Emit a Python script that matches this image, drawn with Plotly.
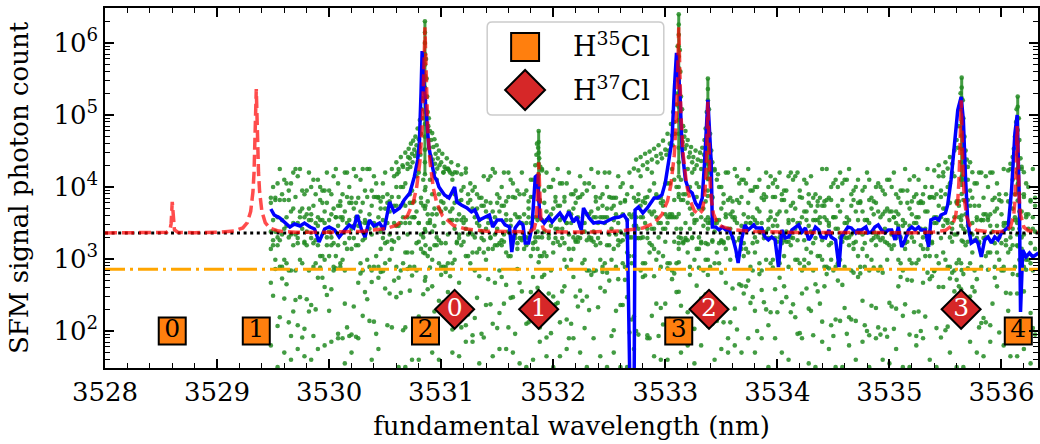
import numpy as np
import plotly.graph_objects as go

# ---------------- data ----------------
# raw SFM shots (log10 photon count) on the scan grid; five shot groups per wavelength
scan_start = 3529.48
scan_step = 0.02
shots_log_a = [
    3.85, 4.00, 3.85, 4.05, 4.25, 3.90, 4.10, 4.05, 3.95, 4.05,
    4.20, 4.25, 4.15, 4.25, 3.95, 3.90, 3.95, 4.20, 4.00, 4.10,
    3.90, 4.10, 4.00, 3.95, 3.95, 4.20, 3.95, 3.90, 4.15, 4.25,
    4.05, 3.80, 3.90, 4.20, 4.20, 4.00, 3.85, 4.25, 4.15, 3.85,
    4.10, 4.25, 3.95, 4.25, 4.25, 3.95, 4.15, 4.05, 3.85, 3.80,
    4.05, 4.20, 3.90, 3.80, 4.25, 4.15, 4.00, 4.25, 4.00, 4.00,
    4.05, 4.25, 3.90, 3.95, 3.80, 4.15, 4.20, 3.85, 4.10, 4.00,
    3.80, 4.10, 3.90, 4.20, 4.10, 3.90, 3.80, 4.20, 4.25, 4.25,
    4.20, 4.10, 3.90, 4.20, 3.80, 3.95, 4.00, 4.20, 3.90, 4.05,
    3.95, 4.00, 3.90, 3.85, 3.85, 4.15, 3.80, 4.10, 4.15, 4.25,
    4.20, 3.90, 3.85, 4.00, 4.20, 3.80, 4.20, 4.10, 4.05, 3.85,
    3.95, 3.90, 4.20, 3.90, 3.95, 3.80, 4.10, 4.10, 4.00, 4.15,
    3.80, 4.25, 3.95, 4.20, 4.00, 4.00, 4.10, 3.80, 4.25, 4.05,
    4.05, 3.80, 4.05, 4.20, 3.90, 3.90, 3.95, 3.85, 4.15, 3.90,
    4.05, 3.95, 4.05, 4.25, 4.00, 3.80, 4.20, 3.85, 3.90, 4.20,
    4.00, 4.20, 3.85, 3.85, 3.85, 4.15, 4.00, 4.05, 3.80, 3.90,
    4.20, 4.00, 3.85, 3.80, 3.90, 4.15, 3.80, 3.85, 4.25, 3.95,
    4.20, 4.05, 3.90, 3.85, 3.85, 3.80, 4.05, 4.05, 4.05, 4.25,
    4.10, 4.00, 4.00, 4.10, 3.90, 3.90, 4.25, 4.00, 4.20, 4.25,
    4.05, 4.00, 4.25, 3.95, 3.80, 3.95, 4.20, 3.85, 4.25, 4.10,
    4.00, 4.00, 3.90, 4.20, 4.20, 3.85, 3.80, 4.25, 4.15, 4.05,
    4.10, 4.10, 4.05, 4.25, 3.95, 3.95, 4.00, 4.00, 4.10, 3.85,
    3.90, 4.20, 4.00, 4.15, 4.05, 4.10, 4.00, 4.20, 3.90, 3.95,
    3.95, 4.15, 4.20, 4.10, 4.15, 4.20, 3.95, 3.85, 4.10, 4.05,
    3.90, 4.15, 3.85, 3.90, 3.80, 3.85, 4.25, 3.80, 4.25, 3.85,
    4.00, 4.05, 4.10, 4.00, 4.20, 4.05, 4.10, 4.10, 4.25, 3.90,
    3.95, 4.00, 4.10, 3.80, 3.95, 4.00, 4.20, 4.10, 3.85, 3.80,
    4.00, 4.05, 4.00, 3.95, 3.90, 4.10, 4.10, 4.00, 4.20, 3.90,
    3.85, 3.95, 3.95, 4.25, 3.95, 4.10, 3.80, 4.15, 3.90, 4.10,
    3.80, 3.90, 4.00, 4.25, 3.85, 4.00, 3.85, 3.90, 4.15, 3.95,
    4.15, 3.90, 4.00, 4.05, 4.20, 4.15, 3.80, 3.80, 4.10, 4.10,
    3.80, 4.10, 3.95, 3.85, 4.05, 4.05, 4.20, 4.20, 3.85, 4.15,
    4.00, 4.20, 4.20, 3.85, 4.05, 3.90, 3.80, 4.25, 3.90, 3.80,
    4.25, 4.10, 3.90, 4.20, 3.90, 4.25, 3.90, 4.05, 4.00, 3.80,
    4.25, 3.85,
]
shots_log_b = [
    3.78, 3.54, 3.82, 3.58, 3.82, 3.54, 3.82, 3.58, 3.82, 3.66,
    3.70, 3.86, 3.50, 3.66, 3.70, 3.58, 3.62, 3.70, 3.62, 3.74,
    3.50, 3.58, 3.82, 3.78, 3.66, 3.78, 3.54, 3.62, 3.70, 3.58,
    3.74, 3.74, 3.58, 3.66, 3.86, 3.78, 3.78, 3.70, 3.78, 3.58,
    3.66, 3.78, 3.50, 3.86, 3.62, 3.74, 3.86, 3.86, 3.86, 3.70,
    3.86, 3.70, 3.78, 3.66, 3.86, 3.74, 3.74, 3.86, 3.74, 3.78,
    3.74, 3.58, 3.78, 3.78, 3.58, 3.66, 3.50, 3.78, 3.74, 3.74,
    3.62, 3.50, 3.62, 3.70, 3.62, 3.70, 3.66, 3.78, 3.70, 3.86,
    3.66, 3.70, 3.78, 3.54, 3.62, 3.82, 3.58, 3.54, 3.78, 3.82,
    3.70, 3.58, 3.70, 3.54, 3.74, 3.74, 3.66, 3.58, 3.78, 3.66,
    3.58, 3.78, 3.66, 3.74, 3.74, 3.62, 3.86, 3.54, 3.86, 3.62,
    3.58, 3.50, 3.50, 3.62, 3.50, 3.70, 3.86, 3.86, 3.58, 3.54,
    3.82, 3.54, 3.78, 3.66, 3.54, 3.62, 3.70, 3.86, 3.74, 3.74,
    3.58, 3.86, 3.50, 3.66, 3.62, 3.70, 3.78, 3.58, 3.86, 3.50,
    3.50, 3.62, 3.62, 3.66, 3.58, 3.86, 3.70, 3.58, 3.74, 3.50,
    3.70, 3.86, 3.70, 3.74, 3.62, 3.50, 3.78, 3.62, 3.82, 3.54,
    3.62, 3.58, 3.62, 3.58, 3.82, 3.74, 3.58, 3.78, 3.86, 3.66,
    3.62, 3.66, 3.86, 3.50, 3.78, 3.74, 3.62, 3.58, 3.62, 3.62,
    3.82, 3.58, 3.86, 3.82, 3.82, 3.50, 3.78, 3.70, 3.62, 3.54,
    3.86, 3.70, 3.58, 3.70, 3.54, 3.50, 3.54, 3.86, 3.50, 3.54,
    3.54, 3.70, 3.78, 3.62, 3.82, 3.62, 3.66, 3.54, 3.82, 3.78,
    3.86, 3.62, 3.50, 3.78, 3.50, 3.58, 3.54, 3.70, 3.66, 3.50,
    3.82, 3.86, 3.54, 3.66, 3.86, 3.86, 3.62, 3.66, 3.82, 3.82,
    3.66, 3.54, 3.74, 3.78, 3.70, 3.50, 3.86, 3.58, 3.66, 3.66,
    3.78, 3.74, 3.54, 3.66, 3.74, 3.50, 3.74, 3.74, 3.82, 3.50,
    3.82, 3.58, 3.58, 3.74, 3.66, 3.82, 3.50, 3.50, 3.54, 3.74,
    3.82, 3.66, 3.78, 3.78, 3.66, 3.54, 3.54, 3.82, 3.70, 3.62,
    3.78, 3.66, 3.58, 3.62, 3.66, 3.70, 3.66, 3.66, 3.58, 3.66,
    3.62, 3.78, 3.54, 3.50, 3.78, 3.70, 3.62, 3.86, 3.50, 3.78,
    3.78, 3.78, 3.66, 3.66, 3.86, 3.86, 3.58, 3.50, 3.74, 3.86,
    3.70, 3.70, 3.54, 3.78, 3.50, 3.58, 3.78, 3.74, 3.54, 3.82,
    3.62, 3.82, 3.74, 3.50, 3.74, 3.58, 3.74, 3.54, 3.62, 3.62,
    3.54, 3.62, 3.82, 3.66, 3.70, 3.82, 3.62, 3.50, 3.50, 3.50,
    3.78, 3.70, 3.58, 3.50, 3.66, 3.66, 3.86, 3.62, 3.62, 3.82,
    3.58, 3.74,
]
shots_log_c = [
    3.38, 3.26, 3.38, 3.30, 3.26, 3.34, 3.42, 3.46, 3.30, 3.34,
    3.50, 3.34, 3.22, 3.58, 3.42, 3.22, 3.38, 3.54, 3.54, 3.22,
    3.26, 3.46, 3.54, 3.54, 3.50, 3.30, 3.38, 3.30, 3.22, 3.58,
    3.46, 3.58, 3.54, 3.22, 3.50, 3.54, 3.42, 3.46, 3.58, 3.46,
    3.50, 3.26, 3.54, 3.50, 3.42, 3.34, 3.50, 3.46, 3.58, 3.38,
    3.54, 3.22, 3.50, 3.34, 3.26, 3.50, 3.46, 3.46, 3.50, 3.58,
    3.50, 3.34, 3.50, 3.58, 3.58, 3.22, 3.50, 3.34, 3.30, 3.38,
    3.50, 3.54, 3.38, 3.46, 3.30, 3.26, 3.22, 3.50, 3.22, 3.34,
    3.54, 3.54, 3.42, 3.22, 3.34, 3.54, 3.50, 3.42, 3.34, 3.38,
    3.34, 3.30, 3.50, 3.46, 3.38, 3.26, 3.42, 3.50, 3.30, 3.50,
    3.34, 3.42, 3.22, 3.26, 3.34, 3.54, 3.38, 3.46, 3.30, 3.34,
    3.22, 3.58, 3.26, 3.30, 3.30, 3.58, 3.50, 3.22, 3.30, 3.38,
    3.58, 3.30, 3.38, 3.54, 3.34, 3.46, 3.22, 3.42, 3.42, 3.54,
    3.42, 3.22, 3.50, 3.34, 3.50, 3.30, 3.26, 3.30, 3.46, 3.38,
    3.38, 3.26, 3.30, 3.26, 3.38, 3.58, 3.50, 3.22, 3.58, 3.58,
    3.58, 3.34, 3.42, 3.54, 3.34, 3.26, 3.38, 3.26, 3.34, 3.30,
    3.30, 3.30, 3.46, 3.46, 3.42, 3.58, 3.30, 3.50, 3.42, 3.22,
    3.42, 3.42, 3.58, 3.30, 3.50, 3.42, 3.42, 3.50, 3.58, 3.58,
    3.58, 3.42, 3.22, 3.42, 3.22, 3.26, 3.26, 3.42, 3.30, 3.50,
    3.54, 3.30, 3.22, 3.46, 3.22, 3.42, 3.50, 3.26, 3.38, 3.50,
    3.22, 3.26, 3.22, 3.58, 3.42, 3.42, 3.58, 3.58, 3.50, 3.26,
    3.46, 3.22, 3.42, 3.58, 3.50, 3.22, 3.30, 3.50, 3.38, 3.42,
    3.34, 3.38, 3.42, 3.58, 3.46, 3.54, 3.46, 3.30, 3.22, 3.26,
    3.38, 3.50, 3.30, 3.54, 3.42, 3.26, 3.50, 3.38, 3.26, 3.54,
    3.46, 3.38, 3.22, 3.54, 3.54, 3.58, 3.26, 3.58, 3.54, 3.46,
    3.22, 3.58, 3.42, 3.42, 3.30, 3.34, 3.30, 3.58, 3.30, 3.34,
    3.22, 3.38, 3.54, 3.38, 3.34, 3.22, 3.54, 3.50, 3.26, 3.38,
    3.34, 3.30, 3.26, 3.38, 3.42, 3.22, 3.54, 3.34, 3.58, 3.50,
    3.46, 3.30, 3.46, 3.22, 3.34, 3.46, 3.30, 3.50, 3.58, 3.58,
    3.42, 3.30, 3.42, 3.26, 3.38, 3.22, 3.50, 3.58, 3.54, 3.58,
    3.46, 3.54, 3.50, 3.30, 3.42, 3.34, 3.34, 3.58, 3.46, 3.42,
    3.38, 3.46, 3.34, 3.34, 3.26, 3.54, 3.22, 3.54, 3.54, 3.30,
    3.58, 3.46, 3.38, 3.22, 3.46, 3.30, 3.22, 3.46, 3.26, 3.42,
    3.30, 3.42, 3.54, 3.34, 3.42, 3.30, 3.34, 3.58, 3.42, 3.22,
    3.42, 3.38,
]
shots_log_d = [
    3.14, 3.19, 2.99, 3.19, 2.89, 2.89, 2.99, 2.94, 2.84, 2.84,
    3.19, 2.84, 3.29, 2.99, 2.94, 3.24, 3.19, 2.84, 3.29, 2.89,
    2.94, 3.19, 3.04, 3.04, 2.99, 3.19, 3.04, 3.19, 2.84, 3.04,
    3.19, 2.94, 2.99, 2.84, 3.14, 3.29, 3.14, 3.29, 3.19, 3.19,
    2.94, 2.84, 3.29, 2.99, 2.89, 2.84, 2.89, 3.04, 2.89, 3.14,
    3.29, 2.94, 3.24, 2.99, 3.14, 3.24, 2.89, 3.29, 2.84, 2.94,
    3.09, 3.09, 2.89, 3.09, 2.89, 2.84, 3.24, 3.14, 3.09, 3.19,
    3.04, 3.14, 2.99, 3.19, 3.19, 2.94, 2.89, 2.89, 2.89, 2.94,
    3.09, 2.94, 2.99, 3.24, 3.29, 3.19, 3.24, 3.04, 3.04, 2.94,
    3.09, 2.84, 3.09, 3.14, 3.29, 3.09, 2.99, 3.14, 3.29, 3.14,
    3.19, 3.19, 2.84, 3.19, 3.24, 3.09, 3.04, 3.04, 3.29, 3.29,
    3.14, 3.29, 3.29, 3.14, 3.19, 3.29, 3.04, 3.14, 3.24, 3.14,
    3.04, 3.04, 3.09, 3.04, 3.29, 2.84, 3.09, 3.29, 3.24, 3.19,
    3.29, 2.99, 2.89, 3.14, 2.99, 3.14, 3.24, 3.24, 3.29, 2.94,
    2.99, 2.84, 2.84, 3.29, 3.24, 3.19, 3.29, 2.99, 2.89, 2.94,
    3.19, 3.19, 2.99, 3.14, 2.89, 3.19, 3.24, 2.94, 2.89, 3.09,
    3.04, 2.94, 3.04, 3.29, 3.29, 3.29, 2.94, 2.94, 3.29, 3.09,
    3.19, 3.14, 2.99, 3.09, 2.89, 3.04, 3.24, 2.94, 2.94, 2.84,
    3.24, 2.94, 3.14, 3.29, 3.24, 3.29, 3.09, 2.89, 3.29, 2.99,
    3.14, 3.14, 3.24, 2.84, 2.99, 2.99, 2.89, 3.24, 2.94, 3.09,
    2.94, 3.24, 3.24, 3.14, 3.29, 2.99, 3.29, 3.24, 3.04, 3.29,
    3.14, 3.04, 3.14, 3.09, 2.89, 2.84, 3.09, 3.24, 2.94, 2.84,
    3.29, 2.99, 3.29, 2.94, 2.99, 3.29, 3.24, 2.94, 3.29, 3.04,
    3.24, 3.24, 3.19, 3.29, 2.99, 2.99, 2.94, 2.84, 2.99, 3.14,
    2.94, 3.09, 2.84, 3.29, 3.04, 3.04, 2.99, 2.89, 2.89, 3.19,
    2.99, 2.84, 2.89, 2.94, 2.99, 3.24, 2.89, 3.29, 3.19, 2.84,
    3.14, 3.24, 3.04, 2.89, 3.14, 2.89, 3.04, 2.84, 2.99, 3.29,
    3.19, 2.84, 2.89, 3.29, 3.24, 2.99, 3.19, 3.14, 3.19, 3.29,
    2.99, 2.94, 2.84, 3.14, 3.24, 2.99, 2.94, 3.24, 2.94, 2.99,
    3.19, 3.14, 3.04, 3.14, 3.04, 3.24, 2.84, 3.04, 2.94, 3.29,
    3.09, 2.99, 2.89, 2.89, 3.24, 2.84, 2.94, 2.99, 2.94, 3.24,
    3.19, 3.24, 2.94, 3.09, 2.84, 3.29, 3.24, 2.89, 3.29, 3.04,
    3.09, 3.09, 3.24, 2.89, 3.09, 2.99, 2.84, 2.89, 3.19, 3.09,
    3.14, 3.19, 2.89, 3.19, 2.99, 3.14, 2.89, 2.99, 2.99, 2.94,
    2.84, 3.14,
]
shots_log_e = [
    2.67, 2.49, 2.86, 2.07, 2.19, 2.73, 2.45, 2.65, 2.12, 1.93,
    2.27, 2.43, 2.08, 2.47, 1.91, 2.03, 2.44, 2.27, 2.36, 1.93,
    2.30, 2.74, 2.88, 2.74, 2.61, 2.50, 2.28, 2.58, 2.89, 2.87,
    1.96, 2.89, 1.90, 2.38, 2.05, 1.93, 1.95, 2.34, 1.92, 2.67,
    2.80, 2.21, 2.54, 2.44, 2.14, 2.68, 2.13, 1.96, 2.74, 2.82,
    2.83, 2.59, 2.08, 2.52, 2.05, 2.70, 2.47, 2.74, 2.53, 2.01,
    2.05, 2.86, 2.56, 2.77, 2.03, 1.91, 2.20, 2.05, 2.51, 2.75,
    2.58, 2.88, 2.62, 2.27, 2.13, 2.42, 2.78, 2.40, 2.82, 2.54,
    2.76, 2.02, 2.39, 2.39, 2.67, 2.05, 2.32, 2.08, 2.23, 2.32,
    1.94, 2.18, 2.46, 2.76, 1.96, 1.91, 2.36, 2.72, 2.37, 2.10,
    2.67, 2.04, 2.25, 2.75, 2.38, 2.64, 2.05, 2.46, 2.47, 1.96,
    2.86, 2.67, 2.55, 2.27, 2.10, 2.12, 2.54, 2.75, 2.34, 2.60,
    2.05, 2.75, 2.78, 1.91, 2.52, 1.97, 2.48, 2.37, 2.39, 2.12,
    2.55, 2.62, 2.16, 1.90, 2.10, 2.75, 2.48, 2.34, 2.56, 2.42,
    2.04, 2.48, 2.29, 2.78, 2.83, 2.84, 2.33, 2.60, 2.82, 2.55,
    2.81, 2.70, 1.93, 2.01, 2.28, 2.72, 2.36, 2.36, 2.71, 2.47,
    1.98, 2.16, 2.20, 2.00, 1.95, 2.84, 2.75, 2.77, 1.94, 1.90,
    2.21, 2.76, 2.38, 1.93, 2.32, 2.09, 2.38, 2.87, 2.17, 2.72,
    2.80, 2.54, 2.00, 2.35, 1.97, 2.16, 2.26, 2.78, 2.03, 2.03,
    2.63, 2.88, 2.45, 2.15, 2.51, 2.07, 2.22, 2.10, 2.30, 2.14,
    2.40, 2.81, 2.12, 2.67, 1.90, 2.12, 2.59, 2.31, 2.02, 2.65,
    2.63, 2.52, 2.62, 2.70, 2.39, 2.47, 2.28, 2.00, 2.79, 2.57,
    2.40, 2.30, 2.08, 2.26, 2.88, 2.58, 2.26, 2.74, 2.40, 2.62,
    2.47, 2.89, 2.26, 2.37, 2.19, 1.96, 1.97, 2.52, 2.89, 2.59,
    2.31, 2.28, 1.94, 2.65, 2.55, 2.38, 2.13, 2.62, 2.79, 2.87,
    2.08, 1.93, 2.16, 2.70, 2.14, 2.64, 2.32, 1.96, 2.19, 2.16,
    2.81, 2.14, 2.75, 2.80, 2.42, 2.08, 2.00, 1.94, 2.35, 2.88,
    2.32, 2.05, 1.95, 2.81, 2.02, 1.92, 2.39, 2.34, 2.03, 2.31,
    2.62, 2.75, 2.21, 2.37, 2.71, 1.95, 2.70, 2.26, 1.93, 2.27,
    2.00, 2.67, 2.20, 2.81, 2.72, 2.76, 2.83, 2.04, 2.61, 1.91,
    2.61, 2.01, 2.06, 2.73, 2.81, 2.55, 2.71, 2.62, 2.58, 2.79,
    2.31, 2.87, 2.48, 2.61, 2.55, 2.72, 2.05, 2.11, 2.18, 2.12,
    2.85, 2.08, 2.38, 2.74, 2.62, 1.98, 2.86, 2.84, 2.53, 2.28,
    2.52, 2.79, 2.05, 2.52, 2.78, 2.17, 2.55, 2.85, 2.16, 2.25,
    2.04, 1.95,
]
# sparse deep-tail shots (log10), coarser grid
tail_step = 0.06
shots_log_f = [
    1.80, 1.50, 1.70, 1.60, 1.75, 1.65, 1.60, 1.75,
    1.80, 1.85, 1.90, 1.55, 1.70, 1.90, 1.45, 1.60, 1.75, 1.45,
    1.45, 1.50, 1.50, 1.60, 1.60, 1.45, 1.70, 1.60, 1.45, 1.70,
    1.65, 1.85, 1.85, 1.55, 1.45, 1.65, 1.75, 1.75, 1.70, 1.55,
    1.50, 1.60, 1.85, 1.65, 1.50, 1.65, 1.75, 1.90, 1.70, 1.50,
    1.90, 1.65, 1.50, 1.70, 1.50, 1.50, 1.75, 1.45, 1.90, 1.65,
    1.60, 1.60, 1.45, 1.70, 1.80, 1.55, 1.80, 1.45, 1.60, 1.75,
    1.70, 1.80, 1.70, 1.90, 1.70, 1.90, 1.50, 1.90, 1.70, 1.60,
    1.45, 1.90, 1.55, 1.50, 1.85, 1.75, 1.50, 1.50, 1.80, 1.60,
    1.85, 1.50, 1.90, 1.60, 1.55, 1.75, 1.50, 1.50, 1.80, 1.90,
    1.60, 1.50, 1.45, 1.70, 1.50, 1.50, 1.85, 1.70, 1.65, 1.85,
    1.45, 1.80, 1.65, 1.65, 1.75, 1.55,
]
# elevated shots in the wings of the strong lines (wavelength, photon count)
wing_x = [
    3530.60, 3530.62, 3530.64, 3530.66, 3530.68, 3530.70, 3530.71, 3530.72, 3530.73, 3530.74,
    3530.75, 3530.76, 3530.77, 3530.78, 3530.79, 3530.80, 3530.81, 3530.82, 3530.825, 3530.83,
    3530.835, 3530.84, 3530.845, 3530.865, 3530.87, 3530.875, 3530.88, 3530.885, 3530.89, 3530.90,
    3530.91, 3530.92, 3530.93, 3530.94, 3530.95, 3530.96, 3530.97, 3530.98, 3531.00, 3531.01,
    3531.03, 3531.05, 3531.07, 3531.09, 3531.12, 3531.15, 3531.18, 3531.22,
    3530.605, 3530.655, 3530.705, 3530.725, 3530.745, 3530.765, 3530.785, 3530.805, 3530.815, 3530.895,
    3530.905, 3530.925, 3530.945, 3530.965, 3530.985, 3531.02, 3531.06, 3531.10,
    3531.84, 3531.85, 3531.855, 3531.865, 3531.875, 3531.885, 3531.90,
    3532.72, 3532.74, 3532.76, 3532.78, 3532.80, 3532.82, 3532.84, 3532.86, 3532.88, 3532.90,
    3532.92, 3532.94, 3532.96, 3532.98, 3533.00, 3533.02, 3533.04, 3533.05, 3533.06, 3533.07,
    3533.08, 3533.09, 3533.10, 3533.105, 3533.11, 3533.13, 3533.135, 3533.14, 3533.15, 3533.16,
    3533.17, 3533.18, 3533.19, 3533.20, 3533.22, 3533.23, 3533.25, 3533.27, 3533.29, 3533.31,
    3533.33, 3533.35, 3533.36, 3533.37, 3533.39, 3533.40, 3533.41, 3533.42, 3533.44, 3533.47,
    3532.93, 3532.97, 3533.01, 3533.03, 3533.065, 3533.085, 3533.155, 3533.175, 3533.21, 3533.24,
    3533.28, 3533.32, 3533.345, 3533.405,
    3535.40, 3535.44, 3535.48, 3535.50, 3535.52, 3535.54, 3535.56, 3535.58, 3535.60, 3535.61,
    3535.62, 3535.63, 3535.635, 3535.655, 3535.66, 3535.67, 3535.68, 3535.69, 3535.70, 3535.72,
    3535.74,
    3536.06, 3536.08, 3536.10, 3536.11, 3536.12, 3536.13, 3536.135, 3536.155, 3536.16, 3536.17,
    3536.18, 3536.20,
]
wing_y = [
    22000, 16000, 26000, 19000, 30000, 21000, 34000, 25000, 40000, 29000,
    44000, 33000, 50000, 38000, 65000, 46000, 85000, 55000, 120000, 170000,
    90000, 300000, 500000, 600000, 320000, 180000, 110000, 70000, 90000, 60000,
    45000, 56000, 36000, 46000, 29000, 38000, 25000, 32000, 22000, 29000,
    19000, 25000, 17000, 22000, 16000, 20000, 15000, 18000,
    15000, 20000, 26000, 19000, 22000, 27000, 30000, 36000, 28000, 35000,
    27000, 24000, 21000, 18000, 20000, 16000, 18000, 15000,
    20000, 28000, 40000, 35000, 25000, 19000, 17000,
    18000, 24000, 17000, 26000, 20000, 29000, 22000, 31000, 24000, 34000,
    27000, 38000, 29000, 44000, 33000, 55000, 40000, 75000, 52000, 110000,
    80000, 200000, 140000, 450000, 900000, 800000, 400000, 180000, 120000, 70000,
    50000, 60000, 38000, 45000, 30000, 36000, 26000, 32000, 24000, 30000,
    35000, 45000, 65000, 110000, 120000, 55000, 32000, 22000, 17000, 15000,
    22000, 25000, 28000, 32000, 38000, 55000, 42000, 34000, 26000, 22000,
    20000, 23000, 28000, 24000,
    17000, 20000, 16000, 22000, 18000, 26000, 21000, 32000, 45000, 35000,
    70000, 120000, 200000, 160000, 90000, 50000, 32000, 24000, 19000, 22000,
    16000,
    17000, 21000, 26000, 34000, 50000, 80000, 120000, 90000, 45000, 25000,
    19000, 16000,
]
# repeated shots recorded on the line centres (photon counts)
peak_centres = [3530.855, 3531.87, 3533.12, 3533.38, 3535.645, 3536.145]
peak_top = [2.0e6, 6.0e4, 2.5e6, 3.2e5, 3.3e5, 1.8e5]
peak_foot = [1.5e4, 8.0e3, 1.5e4, 1.2e4, 1.0e4, 8.0e3]
peak_shot_x = ([3530.855] * 19 + [3531.87] * 11 + [3533.12] * 20
               + [3533.38] * 14 + [3535.645] * 13 + [3536.145] * 12)
peak_shot_y = [
    2000000, 1400000, 1000000, 700000, 500000, 350000, 240000, 160000, 110000, 75000,
    50000, 33000, 22000, 15000, 9000, 5000, 2600, 1200, 500,
    60000, 42000, 30000, 21000, 15000, 10000, 6500, 3800, 2000, 900, 350,
    2500000, 1800000, 1300000, 900000, 650000, 450000, 300000, 200000, 130000, 85000,
    55000, 35000, 22000, 14000, 8000, 4200, 2000, 900, 350, 120,
    320000, 230000, 160000, 110000, 75000, 50000, 33000, 21000, 13000, 7500,
    3800, 1600, 600, 200,
    330000, 240000, 170000, 120000, 80000, 52000, 34000, 22000, 14000, 8000,
    4000, 1800, 700,
    180000, 130000, 90000, 62000, 42000, 28000, 18000, 11000, 6500, 3500, 1500, 600,
]

# smoothed signal (blue)
smooth_x = [
    3529.48, 3529.51, 3529.56, 3529.60, 3529.65, 3529.69, 3529.74, 3529.78, 3529.83, 3529.87,
    3529.91, 3529.96, 3530.00, 3530.05, 3530.09, 3530.14, 3530.18, 3530.22, 3530.25, 3530.29,
    3530.32, 3530.36, 3530.40, 3530.45, 3530.49, 3530.54, 3530.58, 3530.63, 3530.67, 3530.72,
    3530.76, 3530.79, 3530.805, 3530.82, 3530.83, 3530.845, 3530.865, 3530.89, 3530.92, 3530.94,
    3530.96, 3530.98, 3531.03, 3531.07, 3531.12, 3531.14, 3531.18, 3531.23, 3531.27, 3531.30,
    3531.34, 3531.38, 3531.43, 3531.46, 3531.50, 3531.54, 3531.57, 3531.61, 3531.63, 3531.66,
    3531.70, 3531.73, 3531.75, 3531.78, 3531.81, 3531.84, 3531.86, 3531.88, 3531.92, 3531.96,
    3531.99, 3532.02, 3532.06, 3532.10, 3532.14, 3532.18, 3532.21, 3532.25, 3532.27, 3532.32,
    3532.36, 3532.41, 3532.45, 3532.50, 3532.54, 3532.59, 3532.63, 3532.66, 3532.69, 3532.72,
    3532.73, 3532.76, 3532.80, 3532.84, 3532.87, 3532.90, 3532.93, 3532.97, 3533.00, 3533.03,
    3533.06, 3533.08, 3533.10, 3533.13, 3533.15, 3533.18, 3533.21, 3533.24, 3533.27, 3533.30,
    3533.33, 3533.35, 3533.38, 3533.41, 3533.42, 3533.45, 3533.48, 3533.51, 3533.54, 3533.57,
    3533.60, 3533.63, 3533.65, 3533.68, 3533.71, 3533.74, 3533.79, 3533.81, 3533.86, 3533.89,
    3533.92, 3533.95, 3533.98, 3534.01, 3534.04, 3534.07, 3534.10, 3534.13, 3534.16, 3534.19,
    3534.22, 3534.25, 3534.28, 3534.30, 3534.34, 3534.37, 3534.39, 3534.43, 3534.46, 3534.48,
    3534.52, 3534.55, 3534.57, 3534.61, 3534.63, 3534.66, 3534.70, 3534.72, 3534.75, 3534.79,
    3534.81, 3534.84, 3534.87, 3534.90, 3534.93, 3534.96, 3534.99, 3535.02, 3535.05, 3535.08,
    3535.11, 3535.14, 3535.17, 3535.20, 3535.23, 3535.26, 3535.28, 3535.32, 3535.35, 3535.37,
    3535.41, 3535.44, 3535.46, 3535.50, 3535.52, 3535.55, 3535.58, 3535.61, 3535.64, 3535.66,
    3535.68, 3535.70, 3535.73, 3535.77, 3535.79, 3535.82, 3535.85, 3535.88, 3535.91, 3535.94,
    3535.97, 3536.00, 3536.03, 3536.06, 3536.09, 3536.12, 3536.14, 3536.16, 3536.17, 3536.19,
    3536.22, 3536.25, 3536.28, 3536.33,
]
smooth_y = [
    4950, 4080, 3710, 3260, 2780, 3060, 2870, 3160, 2780, 2610,
    1720, 2610, 2780, 2530, 2020, 2530, 2970, 2700, 4080, 2530,
    2020, 3480, 2870, 3160, 2530, 6190, 4500, 5110, 6600, 8250,
    13800, 23700, 40000, 200000, 774000, 300000, 110000, 36000, 20200, 13800,
    12500, 10000, 7740, 7030, 10000, 6190, 5620, 5110, 4500, 4800,
    3480, 3710, 4080, 2780, 3480, 3480, 2970, 2780, 1250, 2700,
    3260, 2970, 1670, 1670, 2780, 13800, 14700, 3830, 3160, 3830,
    3260, 3710, 4350, 3480, 4500, 3260, 3830, 2530, 5110, 3710,
    3160, 3260, 3160, 3480, 3710, 3830, 4080, 3480, 5, 5,
    4800, 5270, 4350, 5110, 6000, 7030, 7030, 7740, 11400, 21500,
    45000, 220000, 727000, 220000, 32600, 12500, 9080, 8250, 6000, 5110,
    7030, 21500, 162000, 21500, 2780, 2780, 2530, 2780, 2530, 2530,
    2020, 1330, 880, 1840, 2970, 2530, 2970, 2700, 2700, 2020,
    1840, 2020, 1840, 770, 2530, 1960, 2020, 2530, 2780, 2970,
    2370, 2700, 1840, 2020, 2780, 2530, 2020, 1960, 2530, 2020,
    1840, 770, 2020, 2530, 2780, 2700, 2300, 2530, 2530, 2780,
    2300, 2370, 2780, 2970, 2530, 2300, 2530, 2530, 1840, 2780,
    1470, 1840, 2530, 2780, 2530, 2780, 2530, 2530, 1470, 3480,
    3710, 3480, 4080, 4350, 5620, 12500, 41000, 117000, 178000, 85000,
    12500, 3160, 1670, 1840, 1670, 1070, 1840, 2020, 1670, 2020,
    1840, 2300, 2530, 2780, 9080, 56000, 100000, 6190, 184, 1330,
    1070, 1210, 1070, 1210,
]

# line-shape model (red dashed)
model_x = [
    3528.00, 3528.30, 3528.45, 3528.55, 3528.58, 3528.59, 3528.60, 3528.61, 3528.62, 3528.65,
    3528.80, 3529.00, 3529.15, 3529.23, 3529.27, 3529.30, 3529.32, 3529.33, 3529.34, 3529.345,
    3529.35, 3529.355, 3529.36, 3529.37, 3529.38, 3529.40, 3529.43, 3529.47, 3529.55, 3529.70,
    3530.00, 3530.30, 3530.50, 3530.60, 3530.70, 3530.75, 3530.78, 3530.81, 3530.83, 3530.84,
    3530.848, 3530.855, 3530.862, 3530.87, 3530.88, 3530.90, 3530.93, 3530.96, 3531.01, 3531.11,
    3531.21, 3531.41, 3531.60, 3531.75, 3531.80, 3531.83, 3531.85, 3531.86, 3531.865, 3531.87,
    3531.875, 3531.88, 3531.89, 3531.91, 3531.94, 3532.00, 3532.30, 3532.60, 3532.80, 3532.90,
    3532.97, 3533.02, 3533.05, 3533.08, 3533.10, 3533.11, 3533.115, 3533.12, 3533.125, 3533.13,
    3533.14, 3533.16, 3533.19, 3533.22, 3533.26, 3533.30, 3533.33, 3533.35, 3533.36, 3533.37,
    3533.375, 3533.38, 3533.385, 3533.39, 3533.40, 3533.41, 3533.43, 3533.46, 3533.50, 3533.60,
    3533.80, 3534.20, 3534.80, 3535.20, 3535.40, 3535.50, 3535.56, 3535.59, 3535.61, 3535.62,
    3535.63, 3535.635, 3535.64, 3535.645, 3535.65, 3535.66, 3535.67, 3535.69, 3535.72, 3535.78,
    3535.88, 3535.98, 3536.04, 3536.08, 3536.11, 3536.12, 3536.13, 3536.135, 3536.14, 3536.145,
    3536.15, 3536.16, 3536.17, 3536.20, 3536.24, 3536.33,
]
model_y = [
    2300, 2310, 2320, 2350, 2540, 3090, 6200, 3090, 2540, 2350,
    2320, 2350, 2440, 2700, 3200, 4580, 8500, 15800, 48300, 117000,
    230000, 117000, 48300, 15800, 8500, 4580, 3200, 2700, 2440, 2350,
    2360, 2430, 2630, 2930, 4015, 6030, 9600, 22400, 65800, 167000,
    560000, 1650000, 560000, 167000, 65800, 22400, 9600, 6030, 4015, 2930,
    2630, 2430, 2380, 2390, 2440, 2640, 3500, 6280, 12200, 22000,
    12200, 6280, 3500, 2640, 2440, 2390, 2360, 2450, 2700, 3150,
    4130, 6410, 10700, 27700, 99300, 330000, 825000, 1650000, 825000, 330000,
    99300, 27800, 10800, 6560, 4660, 4160, 4720, 7130, 11800, 33000,
    78000, 153000, 78000, 32900, 11600, 6840, 4215, 3255, 2845, 2550,
    2410, 2340, 2310, 2320, 2370, 2500, 2920, 3860, 6570, 11600,
    33900, 81300, 160000, 81300, 33900, 11600, 6570, 3860, 2920, 2500,
    2390, 2390, 2470, 2770, 4130, 6280, 15800, 36200, 70000, 36200,
    15800, 6280, 4130, 2770, 2470, 2400,
]

background_level = 2300      # black dotted
noise_level = 720            # orange dash-dot
x_limits = [3528.0, 3536.326]
y_limits_log = [1.486, 6.486]

h35_x = [3528.60, 3529.35, 3530.86, 3533.12, 3536.15]
h35_labels = ["0", "1", "2", "3", "4"]
h35_level = 100
h37_x = [3531.12, 3531.87, 3533.39, 3535.64]
h37_labels = ["0", "1", "2", "3"]
h37_level = 200

x_ticks = [3528, 3529, 3530, 3531, 3532, 3533, 3534, 3535, 3536]
y_ticks = [1e2, 1e3, 1e4, 1e5, 1e6]
y_ticktext = ["10<sup>2</sup>", "10<sup>3</sup>", "10<sup>4</sup>", "10<sup>5</sup>", "10<sup>6</sup>"]

# ---------------- figure ----------------
groups = [shots_log_a, shots_log_b, shots_log_c, shots_log_d, shots_log_e]
n = len(shots_log_a)
for g in groups:
    assert len(g) == n, [len(q) for q in groups]
assert len(wing_x) == len(wing_y), (len(wing_x), len(wing_y))
assert len(peak_shot_x) == len(peak_shot_y), (len(peak_shot_x), len(peak_shot_y))
assert len(smooth_x) == len(smooth_y), (len(smooth_x), len(smooth_y))
assert len(model_x) == len(model_y), (len(model_x), len(model_y))

grid = np.round(scan_start + scan_step * np.arange(n), 3)
grid_f = np.round(scan_start + tail_step * np.arange(len(shots_log_f)), 3)
shots_x = np.concatenate([grid] * len(groups) + [grid_f, np.array(wing_x), np.array(peak_shot_x)])
shots_y = np.concatenate([10 ** np.array(g) for g in groups]
                         + [10 ** np.array(shots_log_f),
                            np.array(wing_y, dtype=float), np.array(peak_shot_y, dtype=float)])

spike_x, spike_y = [], []
for c, top, foot in zip(peak_centres, peak_top, peak_foot):
    spike_x += [c, c, None]
    spike_y += [foot, top, None]

FONT = "DejaVu Serif"
GREEN = "rgba(34,139,34,0.85)"
fig = go.Figure()

fig.add_trace(go.Scatter(
    x=shots_x, y=shots_y, mode="markers", showlegend=False,
    marker=dict(size=4.6, color=GREEN, line=dict(width=0)),
))
fig.add_trace(go.Scatter(
    x=spike_x, y=spike_y, mode="lines", showlegend=False,
    line=dict(color=GREEN, width=3),
))
fig.add_trace(go.Scatter(
    x=smooth_x, y=smooth_y, mode="lines", showlegend=False,
    line=dict(color="#0000ff", width=3.5),
))
fig.add_trace(go.Scatter(
    x=x_limits, y=[background_level, background_level], mode="lines", showlegend=False,
    line=dict(color="black", width=3, dash="3px,3.6px"),
))
fig.add_trace(go.Scatter(
    x=x_limits, y=[noise_level, noise_level], mode="lines", showlegend=False,
    line=dict(color="#ffa500", width=3, dash="20px,5px,3px,5px"),
))
fig.add_trace(go.Scatter(
    x=model_x, y=model_y, mode="lines", showlegend=False,
    line=dict(color="rgba(255,0,0,0.7)", width=3.5, dash="12px,5px"),
))
fig.add_trace(go.Scatter(
    x=h35_x, y=[h35_level] * len(h35_x), mode="markers+text", name="H<sup>35</sup>Cl",
    showlegend=False, text=h35_labels, textposition="middle center",
    textfont=dict(family=FONT, size=25, color="black"),
    marker=dict(symbol="square", size=27, color="#ff7f0e", line=dict(color="black", width=2)),
))
fig.add_trace(go.Scatter(
    x=h37_x, y=[h37_level] * len(h37_x), mode="markers+text", name="H<sup>37</sup>Cl",
    showlegend=False, text=h37_labels, textposition="middle center",
    textfont=dict(family=FONT, size=25, color="white"),
    marker=dict(symbol="diamond", size=30, color="#d62728", line=dict(color="black", width=2)),
))

# ---- legend drawn matplotlib-style (large markers) ----
def px2paper_x(px):
    return (px - 105) / 935.0

def px2paper_y(py):
    return (368 - py) / 360.0

lx0, lx1, ly0, ly1 = px2paper_x(488), px2paper_x(665), px2paper_y(115), px2paper_y(22)
rx, ry = 5 / 935.0, 5 / 360.0
frame = (f"M {lx0+rx},{ly0} L {lx1-rx},{ly0} Q {lx1},{ly0} {lx1},{ly0+ry} "
         f"L {lx1},{ly1-ry} Q {lx1},{ly1} {lx1-rx},{ly1} L {lx0+rx},{ly1} "
         f"Q {lx0},{ly1} {lx0},{ly1-ry} L {lx0},{ly0+ry} Q {lx0},{ly0} {lx0+rx},{ly0} Z")
shapes = [dict(type="path", xref="paper", yref="paper", path=frame,
               line=dict(color="#cccccc", width=1.5), fillcolor="rgba(255,255,255,0.8)")]
sq_cx, sq_cy = px2paper_x(526), px2paper_y(47)
shapes.append(dict(type="rect", xref="paper", yref="paper",
                   x0=sq_cx - 14 / 935, x1=sq_cx + 14 / 935, y0=sq_cy - 14 / 360, y1=sq_cy + 14 / 360,
                   fillcolor="#ff7f0e", line=dict(color="black", width=2)))
dm_cx, dm_cy = px2paper_x(526), px2paper_y(90)
ddx, ddy = 20 / 935, 20 / 360
shapes.append(dict(type="path", xref="paper", yref="paper",
                   path=f"M {dm_cx-ddx},{dm_cy} L {dm_cx},{dm_cy+ddy} L {dm_cx+ddx},{dm_cy} L {dm_cx},{dm_cy-ddy} Z",
                   fillcolor="#d62728", line=dict(color="black", width=2)))
annotations = [
    dict(xref="paper", yref="paper", x=px2paper_x(572), y=px2paper_y(45), xanchor="left", yanchor="middle",
         text="H<sup>35</sup>Cl", showarrow=False, font=dict(family=FONT, size=27, color="black")),
    dict(xref="paper", yref="paper", x=px2paper_x(572), y=px2paper_y(88), xanchor="left", yanchor="middle",
         text="H<sup>37</sup>Cl", showarrow=False, font=dict(family=FONT, size=27, color="black")),
]

minor_y = [m * 10 ** e for e in range(1, 7) for m in range(2, 10)]

fig.update_layout(
    width=1040, height=444,
    margin=dict(l=105, r=0, t=8, b=76),
    paper_bgcolor="white", plot_bgcolor="white",
    font=dict(family=FONT, size=26, color="black"),
    shapes=shapes, annotations=annotations,
    xaxis=dict(
        range=x_limits, showgrid=False, zeroline=False,
        showline=True, linecolor="black", linewidth=1.5, mirror="allticks",
        ticks="inside", ticklen=9, tickwidth=1.5, tickcolor="black",
        tickvals=x_ticks, ticktext=[str(t) for t in x_ticks],
        tickfont=dict(family=FONT, size=26),
        minor=dict(ticks="inside", ticklen=5, tickwidth=1.2, tickcolor="black", dtick=0.2, showgrid=False),
        title=dict(text="fundamental wavelength (nm)", font=dict(family=FONT, size=26), standoff=11),
    ),
    yaxis=dict(
        type="log", range=y_limits_log, showgrid=False, zeroline=False,
        showline=True, linecolor="black", linewidth=1.5, mirror="allticks",
        ticks="inside", ticklen=9, tickwidth=1.5, tickcolor="black",
        tickvals=y_ticks, ticktext=y_ticktext,
        tickfont=dict(family=FONT, size=26),
        minor=dict(ticks="inside", ticklen=5, tickwidth=1.2, tickcolor="black", tickvals=minor_y, showgrid=False),
        title=dict(text="SFM signal photon count", font=dict(family=FONT, size=26), standoff=17),
    ),
)

fig.write_html("out.html")
